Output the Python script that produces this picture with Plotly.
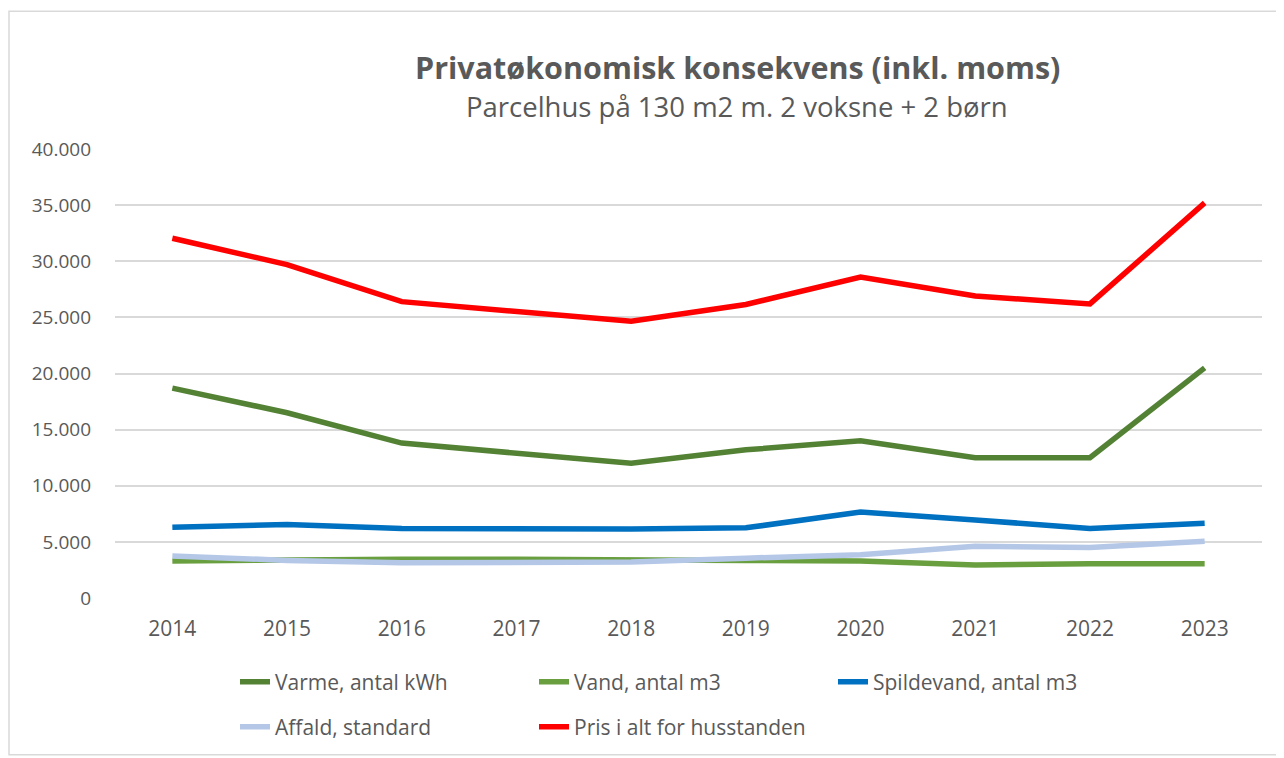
import plotly.graph_objects as go

years = ["2014", "2015", "2016", "2017", "2018", "2019", "2020", "2021", "2022", "2023"]
varme = [18700, 16500, 13800, 12900, 12000, 13200, 14000, 12500, 12500, 20500]
vand = [3300, 3400, 3450, 3450, 3450, 3350, 3300, 2950, 3050, 3050]
spildevand = [6300, 6550, 6200, 6150, 6150, 6250, 7650, 6950, 6200, 6650]
affald = [3750, 3350, 3150, 3150, 3200, 3550, 3850, 4600, 4500, 5050]
pris = [32050, 29700, 26400, 25500, 24650, 26150, 28600, 26900, 26200, 35200]

names = ["Varme, antal kWh", "Vand, antal m3", "Spildevand, antal m3",
         "Affald, standard", "Pris i alt for husstanden"]
colors = ["#548235", "#6A9F40", "#0070C0", "#B4C7E7", "#FF0000"]
series = [varme, vand, spildevand, affald, pris]
legends = ["legend", "legend", "legend", "legend2", "legend2"]

FONT = "Open Sans"
TXT = "#595959"

fig = go.Figure()
for n, c, s, lg in zip(names, colors, series, legends):
    fig.add_trace(go.Scatter(x=years, y=s, name=n, mode="lines",
                             line=dict(color=c, width=5.5), legend=lg))

OFF = 8  # page body offset
W, H = 1284 - OFF, 758 - OFF
# targets in page (rendered) pixels
PL, PR, PT, PB = 115, 1262, 149, 599
L, T = PL - OFF, PT - OFF
R, B = W - (PR - OFF), H - (PB - OFF)
pw, ph = PR - PL, PB - PT

def px(x):
    return (x - PL) / pw

def py(y):
    return (PB - y) / ph

leg_common = dict(orientation="h", xanchor="left", yanchor="middle",
                  entrywidth=254, entrywidthmode="pixels",
                  font=dict(size=21, color=TXT, family=FONT),
                  traceorder="normal", itemwidth=30, bgcolor="rgba(0,0,0,0)")

fig.update_layout(
    width=W, height=H,
    margin=dict(l=L, r=R, t=T, b=B),
    paper_bgcolor="white", plot_bgcolor="white",
    separators=",.",
    font=dict(family=FONT, color=TXT, size=19),
    showlegend=True,
    legend=dict(x=px(235), y=py(682), **leg_common),
    legend2=dict(x=px(235), y=py(727), **leg_common),
    xaxis=dict(type="category", range=[-0.5, 9.5], showgrid=False, showline=False,
               zeroline=False, tickfont=dict(size=21, color=TXT), ticks="",
               ticklabelstandoff=16),
    yaxis=dict(range=[0, 40000], dtick=5000, tickformat=",d", showgrid=True,
               gridcolor="#D9D9D9", gridwidth=1.5, zeroline=False, showline=False,
               tickfont=dict(size=19, color=TXT), ticklabelstandoff=23),
    annotations=[
        dict(text="<b>Privatøkonomisk konsekvens (inkl. moms)</b>", x=px(737), y=py(67),
             xref="paper", yref="paper", xanchor="center", yanchor="middle",
             showarrow=False, font=dict(size=30.5, color=TXT, family=FONT)),
        dict(text="Parcelhus på 130 m2 m. 2 voksne + 2 børn", x=px(737), y=py(106),
             xref="paper", yref="paper", xanchor="center", yanchor="middle",
             showarrow=False, font=dict(size=27.5, color=TXT, family=FONT)),
    ],
    shapes=[dict(type="rect", xref="paper", yref="paper",
                 x0=px(OFF + 1), x1=px(1281), y0=py(756), y1=py(11),
                 line=dict(color="#D9D9D9", width=1.5), fillcolor="rgba(0,0,0,0)",
                 layer="below")],
)

fig.write_html("out.html")
